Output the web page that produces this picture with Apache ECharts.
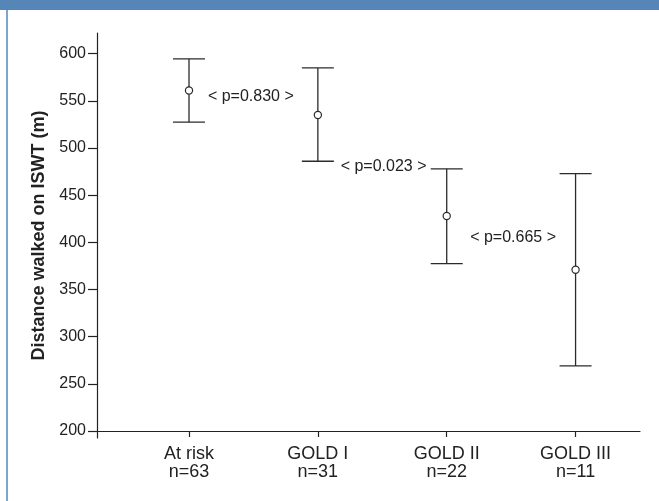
<!DOCTYPE html>
<html>
<head>
<meta charset="utf-8">
<script src="https://cdn.jsdelivr.net/npm/echarts@6/dist/echarts.min.js"></script>
<style>
html,body{margin:0;padding:0;background:#fff;}
#frame{position:absolute;left:0;top:0;width:659px;height:501px;}
#bar{position:absolute;left:0;top:0;width:659px;height:10px;background:#5686b8;}
#lline{position:absolute;left:6px;top:10px;width:2px;height:491px;background:#7ba5d3;}
#chart{position:absolute;left:0;top:0;width:659px;height:501px;}
</style>
</head>
<body>
<div id="frame"><div id="chart"></div><div id="bar"></div><div id="lline"></div></div>
<script>
var categories = ['At risk\nn=63', 'GOLD I\nn=31', 'GOLD II\nn=22', 'GOLD III\nn=11'];
var means = [561, 535, 428, 371];
var lower = [527.5, 486, 377.5, 269];
var upper = [594.5, 585, 478, 473];
var yTicks = [200, 250, 300, 350, 400, 450, 500, 550, 600];
var pLabels = ['< p=0.830 >', '< p=0.023 >', '< p=0.665 >'];
var pLabelX = [1.48, 2.51, 3.515];
var pLabelY = [554.7, 480.8, 404.7];

var FONT = '"Liberation Sans", Arial, sans-serif';
var catPos = categories.map(function (c, i) { return i + 1; });

var barData = catPos.map(function (x, i) { return [x, means[i], lower[i], upper[i]]; });
var pData = pLabels.map(function (t, i) { return [pLabelX[i], pLabelY[i]]; });

var chart = echarts.init(document.getElementById('chart'), null, {renderer: 'canvas'});
chart.setOption({
  backgroundColor: '#fff',
  animation: false,
  grid: {left: 97, right: 19, top: 33, bottom: 63, containLabel: false},
  xAxis: {
    type: 'value', min: 0.286, max: 4.5, offset: -7,
    axisLine: {show: true, lineStyle: {color: '#222', width: 1.2}},
    axisTick: {show: true, length: 6, customValues: catPos, lineStyle: {color: '#222', width: 1.2}},
    axisLabel: {
      customValues: catPos, color: '#222', fontFamily: FONT, fontSize: 18, lineHeight: 18, margin: 14,
      formatter: function (v) { return categories[Math.round(v) - 1] || ''; }
    },
    splitLine: {show: false}
  },
  yAxis: {
    type: 'value', min: 192.6, max: 622,
    name: 'Distance walked on ISWT (m)', nameLocation: 'middle', nameGap: 43,
    nameTextStyle: {color: '#222', fontFamily: FONT, fontSize: 18, fontWeight: 'bold'},
    axisLine: {show: true, onZero: false, lineStyle: {color: '#222', width: 1.2}},
    axisTick: {show: true, length: 9, customValues: yTicks, lineStyle: {color: '#222', width: 1.2}},
    axisLabel: {customValues: yTicks, color: '#222', fontFamily: FONT, fontSize: 16, margin: 11},
    splitLine: {show: false}
  },
  series: [
    {
      type: 'custom',
      data: barData,
      renderItem: function (params, api) {
        var x = api.value(0);
        var pm = api.coord([x, api.value(1)]);
        var pl = api.coord([x, api.value(2)]);
        var pu = api.coord([x, api.value(3)]);
        var hw = 16;
        var st = {stroke: '#2b2b2b', lineWidth: 1.3, fill: null};
        return {
          type: 'group',
          children: [
            {type: 'line', shape: {x1: pu[0], y1: pu[1], x2: pl[0], y2: pl[1]}, style: st},
            {type: 'line', shape: {x1: pu[0] - hw, y1: pu[1], x2: pu[0] + hw, y2: pu[1]}, style: st},
            {type: 'line', shape: {x1: pl[0] - hw, y1: pl[1], x2: pl[0] + hw, y2: pl[1]}, style: st},
            {type: 'circle', shape: {cx: pm[0], cy: pm[1], r: 3.6}, style: {stroke: '#2b2b2b', lineWidth: 1.2, fill: '#fff'}}
          ]
        };
      }
    },
    {
      type: 'custom',
      data: pData,
      renderItem: function (params, api) {
        var p = api.coord([api.value(0), api.value(1)]);
        return {
          type: 'text',
          style: {
            x: p[0], y: p[1], text: pLabels[params.dataIndex],
            fill: '#222', font: '16px ' + FONT, textAlign: 'center', textVerticalAlign: 'middle'
          }
        };
      }
    }
  ]
});
</script>
</body>
</html>
